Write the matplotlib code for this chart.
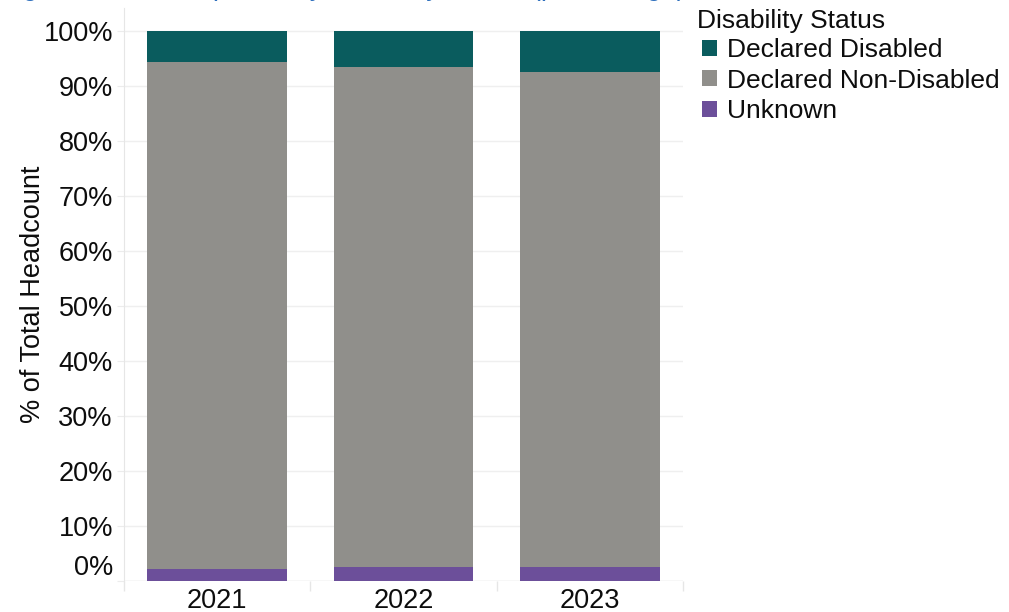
import numpy as np
import matplotlib
matplotlib.use("Agg")
import matplotlib.pyplot as plt
from matplotlib.patches import Patch
from matplotlib.transforms import ScaledTranslation

plt.rcParams['font.family'] = ['Liberation Sans', 'DejaVu Sans']

# headcount share by disability status, per year (%)
years = ['2021', '2022', '2023']
unknown = [2.2, 2.5, 2.5]
disabled = [5.6, 6.5, 7.4]
non_disabled = [100 - u - d for u, d in zip(unknown, disabled)]

series = ['Declared Disabled', 'Declared Non-Disabled', 'Unknown']
colours = {'Declared Disabled': '#0a5c5e',
           'Declared Non-Disabled': '#908f8b',
           'Unknown': '#6c4f9a'}

yticks = list(range(0, 101, 10))
fs = 19.5

fig = plt.figure(figsize=(10.09, 6.12), dpi=100)
ax = fig.add_axes([124 / 1009, 31 / 612, 559 / 1009, 573 / 612])

x = np.arange(len(years))
w = 0.75
ax.bar(x, unknown, w, color=colours['Unknown'], zorder=3)
ax.bar(x, non_disabled, w, bottom=unknown, color=colours['Declared Non-Disabled'], zorder=3)
ax.bar(x, disabled, w, bottom=np.add(unknown, non_disabled), color=colours['Declared Disabled'], zorder=3)

ax.set_xlim(-0.5, len(years) - 0.5)
ax.set_ylim(0, 104.2)

ax.set_yticks(yticks)
ax.set_yticklabels([f'{t}%' for t in yticks], fontsize=fs, color='#0d0d0d')
ax.set_xticks(x)
ax.set_xticklabels(years, fontsize=fs, color='#0d0d0d')
ax.set_xticks(np.arange(-0.5, len(years)), minor=True)
ax.tick_params(axis='y', length=5, color='#ececec', pad=3)
ax.tick_params(axis='x', which='major', length=0, pad=5)
ax.tick_params(axis='x', which='minor', length=7, color='#e6e6e6', width=1)

# lift the 0% label off the baseline
lab0 = ax.get_yticklabels()[0]
lab0.set_transform(lab0.get_transform() + ScaledTranslation(0, 16 / 100, fig.dpi_scale_trans))

ax.grid(axis='y', color='#efefef', lw=1, zorder=0)
for s in ['top', 'right', 'bottom']:
    ax.spines[s].set_visible(False)
ax.spines['left'].set_color('#e6e6e6')
ax.axhline(0, color='#e6e6e6', lw=1, zorder=1)

ax.set_ylabel('% of Total Headcount', fontsize=fs, color='#0d0d0d')
ax.yaxis.set_label_coords(-0.14, 0.5)

# legend: title drawn separately so the swatches sit slightly indented
fig.text(697 / 1009, 1 - 21 / 612, 'Disability Status', fontsize=19,
         color='#0d0d0d', ha='left', va='center')
handles = [Patch(facecolor=colours[s], edgecolor='none', label=s) for s in series]
leg = fig.legend(handles=handles, loc='upper left',
                 bbox_to_anchor=(702 / 1009, 1 - 38 / 612), frameon=False,
                 fontsize=19, handlelength=0.55, handleheight=0.55,
                 handletextpad=0.4, labelspacing=0.25, borderpad=0,
                 borderaxespad=0)
for t in leg.get_texts():
    t.set_color('#0d0d0d')

fig.text(0.0, 1 + 5 / 612, 'Figure 6: Council profile by Disability Status (percentage)',
         fontsize=fs, color='#2e6fbd', ha='left', va='baseline')

fig.savefig('out.png', dpi=100)
